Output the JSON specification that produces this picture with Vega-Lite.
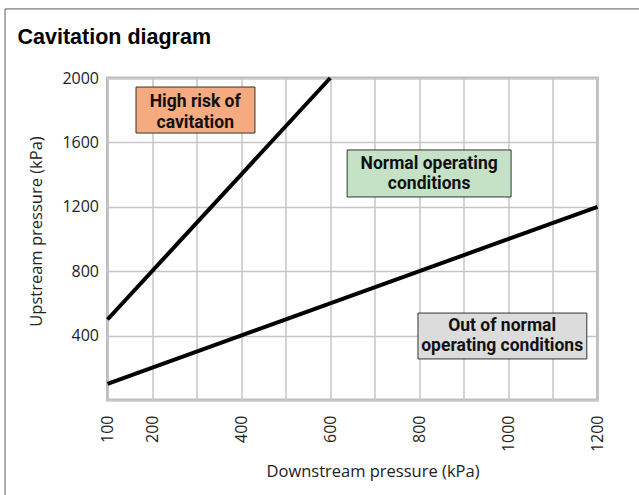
{
  "$schema": "https://vega.github.io/schema/vega-lite/v6.json",
  "width": 490,
  "height": 322,
  "autosize": {"type": "none"},
  "padding": {"left": 107.5, "top": 78, "right": 41.5, "bottom": 95},
  "background": "white",
  "title": {
    "text": "Cavitation diagram",
    "anchor": "start",
    "frame": "group",
    "dx": -90,
    "offset": 0,
    "dy": 57,
    "baseline": "alphabetic",
    "font": "Liberation Sans",
    "fontSize": 21.5,
    "fontWeight": "bold",
    "color": "#000000"
  },
  "config": {
    "view": {"stroke": "#bdbdbd", "strokeWidth": 3},
    "axis": {
      "ticks": false,
      "domain": false,
      "grid": true,
      "gridColor": "#c6c6c6",
      "gridWidth": 1.5,
      "labelFont": "Open Sans",
      "labelFontSize": 16,
      "labelColor": "#222222",
      "titleFont": "Open Sans",
      "titleFontSize": 16.5,
      "titleFontWeight": "normal",
      "titleColor": "#222222",
      "labelOverlap": false
    }
  },
  "datasets": {
    "curves": [
      {"series": "A", "down": 100, "up": 500},
      {"series": "A", "down": 600, "up": 2000},
      {"series": "B", "down": 100, "up": 100},
      {"series": "B", "down": 1200, "up": 1200}
    ],
    "zones": [
      {"zone": "High risk of cavitation", "label": ["High risk of", "cavitation"], "down_from": 164, "down_to": 431, "up_from": 1658, "up_to": 1944, "label_down": 297, "label_up": 1818},
      {"zone": "Normal operating conditions", "label": ["Normal operating", "conditions"], "down_from": 638, "down_to": 1006, "up_from": 1261, "up_to": 1553, "label_down": 822, "label_up": 1435},
      {"zone": "Out of normal operating conditions", "label": ["Out of normal", "operating conditions"], "down_from": 797, "down_to": 1176, "up_from": 255, "up_to": 540, "label_down": 986, "label_up": 429}
    ]
  },
  "layer": [
    {
      "data": {"name": "curves"},
      "mark": {"type": "line", "color": "#000000", "strokeWidth": 4, "strokeCap": "butt"},
      "encoding": {
        "x": {
          "field": "down",
          "type": "quantitative",
          "scale": {"domain": [100, 1200], "nice": false, "zero": false},
          "axis": {
            "title": "Downstream pressure (kPa)",
            "values": [100, 200, 300, 400, 500, 600, 700, 800, 900, 1000, 1100, 1200],
            "format": "d",
            "labelExpr": "indexof([300, 500, 700, 900, 1100], datum.value) >= 0 ? '' : datum.label",
            "labelAngle": -90,
            "labelAlign": "right",
            "labelBaseline": "middle",
            "labelPadding": 15,
            "titlePadding": 12,
            "titleX": 265
          }
        },
        "y": {
          "field": "up",
          "type": "quantitative",
          "scale": {"domain": [0, 2000], "nice": false},
          "axis": {
            "title": "Upstream pressure (kPa)",
            "values": [0, 200, 400, 600, 800, 1000, 1200, 1400, 1600, 1800, 2000],
            "format": "d",
            "labelExpr": "datum.value % 400 == 0 && datum.value > 0 ? datum.label : ''",
            "labelPadding": 9,
            "titleX": -71,
            "titleY": 153,
            "titleBaseline": "middle",
            "titleAlign": "center"
          }
        },
        "detail": {"field": "series", "type": "nominal"}
      }
    },
    {
      "data": {"values": [{}]},
      "mark": {"type": "rect", "fill": null, "fillOpacity": 0, "stroke": "#5a5a5a", "strokeWidth": 1},
      "encoding": {
        "x": {"datum": -130},
        "x2": {"datum": 1430},
        "y": {"datum": 2429},
        "y2": {"datum": -994}
      }
    },
    {
      "data": {"name": "zones"},
      "mark": {"type": "rect", "stroke": "#333333", "strokeWidth": 1},
      "encoding": {
        "x": {"field": "down_from", "type": "quantitative"},
        "x2": {"field": "down_to"},
        "y": {"field": "up_from", "type": "quantitative"},
        "y2": {"field": "up_to"},
        "fill": {
          "field": "zone",
          "type": "nominal",
          "scale": {
            "domain": ["High risk of cavitation", "Normal operating conditions", "Out of normal operating conditions"],
            "range": ["#f5aa80", "#c5e2c7", "#dcdcdc"]
          },
          "legend": null
        }
      }
    },
    {
      "data": {"name": "zones"},
      "mark": {
        "type": "text",
        "font": "Roboto",
        "fontWeight": "bold",
        "fontSize": 17.5,
        "lineHeight": 20.5,
        "align": "center",
        "baseline": "alphabetic",
        "color": "#111111"
      },
      "encoding": {
        "x": {"field": "label_down", "type": "quantitative"},
        "y": {"field": "label_up", "type": "quantitative"},
        "text": {"field": "label"}
      }
    }
  ]
}
